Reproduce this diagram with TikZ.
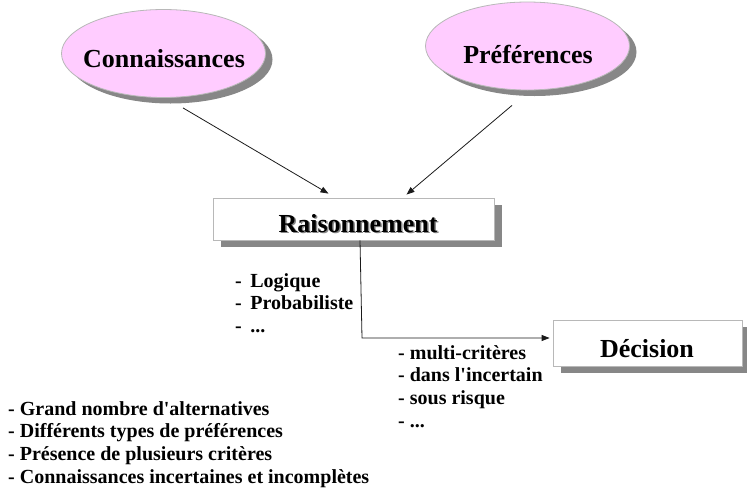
\documentclass[tikz,border=0pt]{standalone}
\usepackage{fontspec}
\setmainfont{Liberation Serif}[Ligatures=TeXOff]
\usetikzlibrary{shapes.geometric,arrows.meta,shadows}
\definecolor{pinkfill}{HTML}{FFCCFF}
\definecolor{shade}{HTML}{878787}
\definecolor{rim}{HTML}{B8B8B8}
\definecolor{ink}{HTML}{1A1A1A}

\begin{document}
\begin{tikzpicture}[x=1pt,y=-1pt,
  bubble/.style={ellipse, draw=rim, line width=0.8pt, fill=pinkfill, inner sep=0pt,
    minimum width=204pt, minimum height=88pt,
    drop shadow={shadow xshift=7pt, shadow yshift=-6pt, fill=shade, opacity=1}},
  panel/.style={rectangle, draw=rim, line width=0.8pt, fill=white, inner sep=0pt,
    drop shadow={shadow xshift=8pt, shadow yshift=-7pt, fill=shade, opacity=1}},
  title/.style={inner sep=0pt, anchor=base, font=\fontsize{26}{31}\selectfont\bfseries},
  listtext/.style={inner sep=0pt, anchor=base west, font=\fontsize{20}{22.7}\selectfont\bfseries},
  link/.style={draw=ink, line width=0.8pt, -{Triangle[length=8pt,width=6pt]}}
]
\useasboundingbox (0,0) rectangle (747,488);

% pink bubbles
\node[bubble] (con) at (163.5,53.5) {};
\node[title] (contxt) at (164,67) {Connaissances};
\node[bubble] (pref) at (527.5,46) {};
\node[title] (preftxt) at (528,63) {Préférences};

% boxes
\node[panel, minimum width=281pt, minimum height=42pt] (rais) at (353.5,219) {};
\node[title, text=shade] (raisshd) at (359.5,233.4) {Raisonnement};
\node[title] (raistxt) at (358,232) {Raisonnement};
\node[panel, minimum width=189pt, minimum height=46pt] (dec) at (647.5,343) {};
\node[title] (dectxt) at (647,357) {Décision};

% connectors
\draw[link] ([xshift=19.5pt,yshift=-10pt]con.south) -- ([xshift=-25pt,yshift=4pt]rais.north);
\draw[link] ([xshift=-15.5pt,yshift=-15pt]pref.south) -- ([xshift=53pt,yshift=3pt]rais.north);
\coordinate (bend) at (362,338);
\draw[link, shorten >=3pt] ([xshift=6.5pt]rais.south) -- (bend) -- (bend -| dec.west);

% lists
\node[listtext] (reasonlist) at (235,287)
  {\begin{tabular}[t]{@{}l@{\hspace{8.5pt}}l@{}}-&Logique\\-&Probabiliste\\-&...\end{tabular}};
\node[listtext] (declist) at (398,359)
  {\begin{tabular}[t]{@{}l@{}}- multi-critères\\- dans l'incertain\\- sous risque\\- ...\end{tabular}};
\node[listtext] (pblist) at (8,415)
  {\begin{tabular}[t]{@{}l@{}}- Grand nombre d'alternatives\\- Différents types de préférences\\- Présence de plusieurs critères\\- Connaissances incertaines et incomplètes\end{tabular}};
\end{tikzpicture}
\end{document}
